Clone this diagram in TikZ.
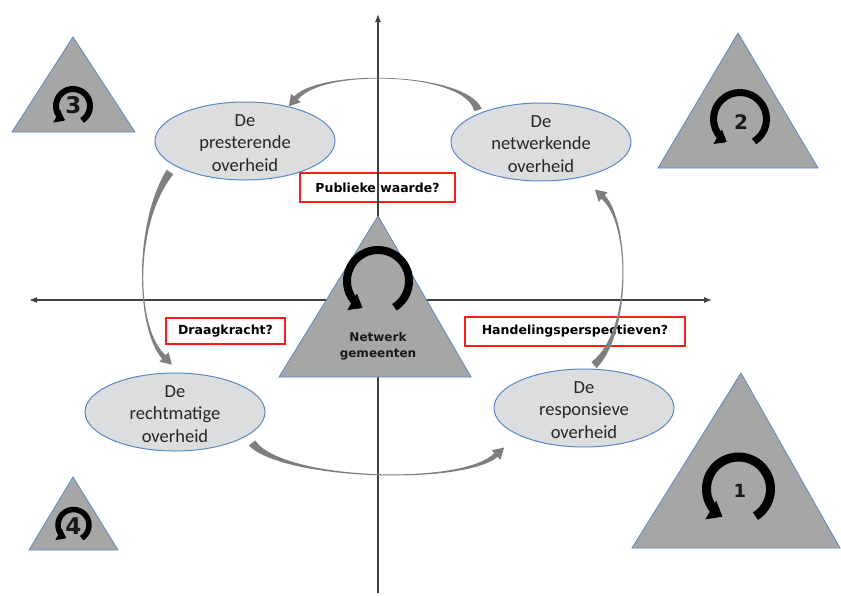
\documentclass[tikz,border=0pt]{standalone}
\usepackage{fontspec}
\setmainfont{Carlito}
\newfontfamily\heavysans{DejaVu Sans}[BoldFont={DejaVu Sans Bold}]
\usetikzlibrary{arrows.meta,calc,shapes.geometric}

\definecolor{ellfill}{HTML}{DCDDDF}
\definecolor{edgeblue}{HTML}{5B87C5}
\definecolor{trifill}{HTML}{A6A6A6}
\definecolor{flowgray}{HTML}{7F7F7F}
\definecolor{boxred}{HTML}{FF1A1A}

% tapered curved flow arrow: start, control 1, control 2, head base,
% half width at start, half width at head, head length, head half width
\newcommand\sweeparrow[8]{%
  \coordinate (sw-a0) at ($(#1)!#5!90:(#2)$);
  \coordinate (sw-b0) at ($(#1)!#5!-90:(#2)$);
  \coordinate (sw-a3) at ($(#4)!#6!-90:(#3)$);
  \coordinate (sw-b3) at ($(#4)!#6!90:(#3)$);
  \coordinate (sw-ha) at ($(#4)!#8!-90:(#3)$);
  \coordinate (sw-hb) at ($(#4)!#8!90:(#3)$);
  \coordinate (sw-tip) at ($(#4)!-#7!(#3)$);
  \fill[flowgray] (sw-a0) .. controls (#2) and (#3) .. (sw-a3) -- (sw-ha) -- (sw-tip)
    -- (sw-hb) -- (sw-b3) .. controls (#3) and (#2) .. (sw-b0) -- cycle;
}

% thick black circular arrow open at the bottom: centre, radius, line width
% (angles in page orientation: lower right, over the top, to lower left)
\newcommand\cyclearrow[3]{%
  \draw[line width=#3pt, -{Triangle[length=1.5*#3pt, width=2.3*#3pt]}]
    (#1) ++(-58:#2pt) arc[start angle=-58, end angle=240, radius=#2pt];
}

\tikzset{
  stage/.style={ellipse, draw=edgeblue, fill=ellfill, line width=1pt,
    minimum width=180pt, minimum height=78pt, inner sep=0pt},
  stagetext/.style={align=center, inner sep=0pt, text=black!85,
    font=\fontsize{18.5}{22.5}\selectfont},
  query/.style={draw=boxred, line width=1.2pt, inner sep=0pt,
    font=\heavysans\bfseries\fontsize{12.5}{15}\selectfont},
  axisline/.style={draw=black!75, line width=1.2pt},
  tri/.style={fill=trifill, draw=edgeblue, line width=0.8pt, line join=miter},
  digit/.style={inner sep=0pt, text=black!90, font=\heavysans\bfseries}
}

\begin{document}
\begin{tikzpicture}[x=1pt, y=-1pt]
\useasboundingbox (0,0) rectangle (841,595);
\fill[white] (0,0) rectangle (841,595);

% question boxes
\node[query, minimum width=155pt, minimum height=29pt] (pw) at (377.5,187.5) {Publieke waarde?};
\node[query, minimum width=119pt, minimum height=26pt] (dk) at (225.5,331) {Draagkracht?};
\node[query, minimum width=220pt, minimum height=29pt] (hp) at (575,331.5) {Handelingsperspectieven?};

% axes
\coordinate (xl) at (29,300);
\coordinate (xr) at (712,300);
\coordinate (yb) at (378,593);
\coordinate (yt) at (378,14);
\draw[axisline, {Latex[length=8pt,width=6pt]}-{Latex[length=8pt,width=6pt]}] (xl) -- (xr);
\draw[axisline, -{Latex[length=8pt,width=6pt]}] (yb) -- (yt);

% flow arrows between the four governments
\coordinate (t0) at (478,110); \coordinate (t1) at (466,72);
\coordinate (t2) at (322,68);  \coordinate (t3) at (296,98);
\sweeparrow{t0}{t1}{t2}{t3}{4pt}{2.5pt}{11pt}{6.5pt}

\coordinate (l0) at (170,172); \coordinate (l1) at (133,225);
\coordinate (l2) at (136,330); \coordinate (l3) at (164,357);
\sweeparrow{l0}{l1}{l2}{l3}{4pt}{2.5pt}{11pt}{6.5pt}

\coordinate (b0) at (252,443); \coordinate (b1) at (282,480);
\coordinate (b2) at (462,486); \coordinate (b3) at (496,455);
\sweeparrow{b0}{b1}{b2}{b3}{4pt}{2.5pt}{11pt}{6.5pt}

\coordinate (r0) at (594,365); \coordinate (r1) at (632,332);
\coordinate (r2) at (630,222); \coordinate (r3) at (603,197);
\sweeparrow{r0}{r1}{r2}{r3}{4pt}{2.5pt}{11pt}{6.5pt}

% the four governments
\node[stage] (pres) at (245,141) {};
\node[stagetext] (presT) at (245,143) {De\\presterende\\overheid};
\node[stage] (netw) at (541,142) {};
\node[stagetext] (netwT) at (541,144) {De\\netwerkende\\overheid};
\node[stage] (recht) at (175,412) {};
\node[stagetext] (rechtT) at (175,414) {De\\rechtmatige\\overheid};
\node[stage] (resp) at (584,408) {};
\node[stagetext] (respT) at (584,410) {De\\responsieve\\overheid};

% central triangle
\draw[tri] (378,216) -- (279,377) -- (471,377) -- cycle;
\coordinate (cc) at (378,281);
\cyclearrow{cc}{31}{8}
\node[digit, align=center, font=\heavysans\bfseries\fontsize{12}{16}\selectfont] (net) at (378,346) {Netwerk\\gemeenten};

% corner triangles with numbered cycles
\draw[tri] (741,373) -- (632,548) -- (840,548) -- cycle;
\coordinate (c1) at (738.5,489);
\cyclearrow{c1}{32}{9}
\node[digit, font=\heavysans\bfseries\fontsize{18}{18}\selectfont] (n1) at (740,491) {1};

\draw[tri] (738,33) -- (658,168) -- (818,168) -- cycle;
\coordinate (c2) at (740,119);
\cyclearrow{c2}{26.5}{7}
\node[digit, font=\heavysans\bfseries\fontsize{20}{20}\selectfont] (n2) at (741,122.5) {2};

\draw[tri] (73,37) -- (12,132) -- (135,132) -- cycle;
\coordinate (c3) at (73,106);
\cyclearrow{c3}{17}{6}
\node[digit, font=\heavysans\bfseries\fontsize{23}{23}\selectfont] (n3) at (73.5,105) {3};

\draw[tri] (73,477) -- (29,550) -- (118,550) -- cycle;
\coordinate (c4) at (73.5,525);
\cyclearrow{c4}{15.5}{5.5}
\node[digit, font=\heavysans\bfseries\fontsize{23}{23}\selectfont] (n4) at (73.5,526.5) {4};
\end{tikzpicture}
\end{document}
